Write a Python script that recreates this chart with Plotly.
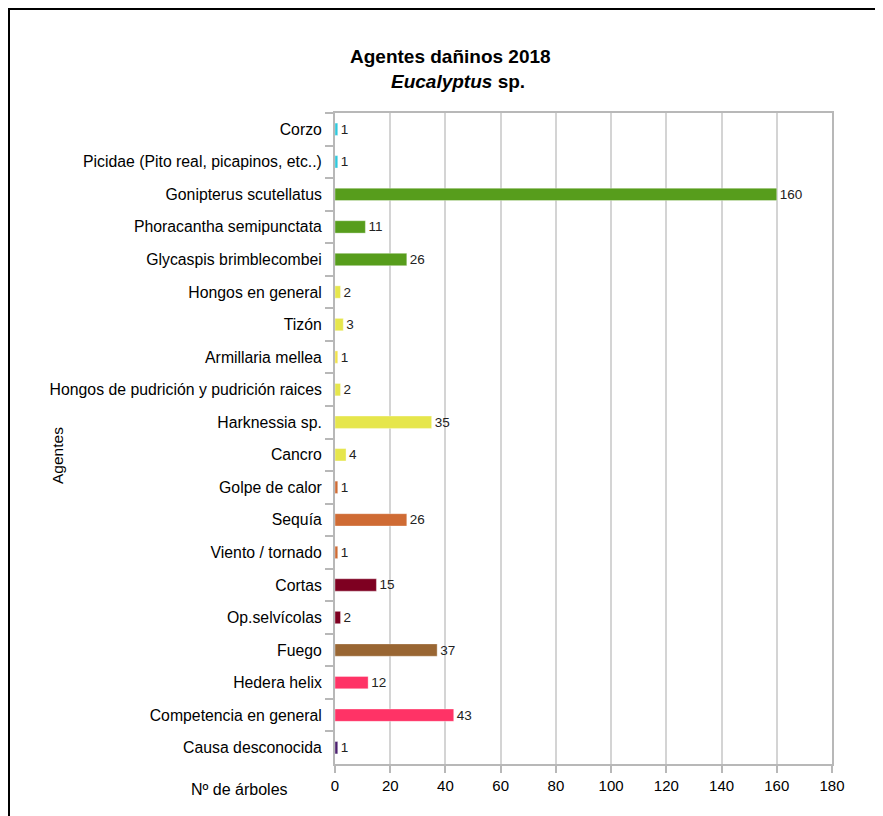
import plotly.graph_objects as go

agentes = [
    "Corzo",
    "Picidae (Pito real, picapinos, etc..)",
    "Gonipterus scutellatus",
    "Phoracantha semipunctata",
    "Glycaspis brimblecombei",
    "Hongos en general",
    "Tizón",
    "Armillaria mellea",
    "Hongos de pudrición y pudrición raices",
    "Harknessia sp.",
    "Cancro",
    "Golpe de calor",
    "Sequía",
    "Viento / tornado",
    "Cortas",
    "Op.selvícolas",
    "Fuego",
    "Hedera helix",
    "Competencia en general",
    "Causa desconocida",
]
arboles = [1, 1, 160, 11, 26, 2, 3, 1, 2, 35, 4, 1, 26, 1, 15, 2, 37, 12, 43, 1]

colores = [
    "#2fc8dc", "#2fc8dc",
    "#579d1c", "#579d1c", "#579d1c",
    "#e6e64c", "#e6e64c", "#f2e34a", "#e6e64c", "#e6e64c", "#e6e64c",
    "#cf6b34", "#cf6b34", "#cf6b34",
    "#7e0021", "#7e0021",
    "#996633",
    "#ff3366", "#ff3366",
    "#4b1f6f",
]

x_ticks = [0, 20, 40, 60, 80, 100, 120, 140, 160, 180]

FONT = "Liberation Sans"

# page body has an 8px margin; work in reference-pixel coordinates
OFF = 8
W, H = 883 - OFF, 816 - OFF
L = 335 - OFF
T = 113 - OFF
R = W - (832 - OFF)
B = H - (764 - OFF)
pw, ph = W - L - R, H - T - B


def px_x(X):
    return (X - OFF - L) / pw


def px_y(Y):
    return (H - B - (Y - OFF)) / ph


fig = go.Figure(
    go.Bar(
        x=arboles,
        y=agentes,
        orientation="h",
        marker=dict(color=colores, line=dict(width=1, color="rgba(255,255,255,0.35)")),
        text=[str(v) for v in arboles],
        textposition="outside",
        constraintext="none",
        textfont=dict(family=FONT, size=13.5, color="#222222"),
        cliponaxis=False,
        hoverinfo="x+y",
    )
)

fig.update_layout(
    width=W,
    height=H,
    margin=dict(l=L, r=R, t=T, b=B, pad=0),
    paper_bgcolor="white",
    plot_bgcolor="white",
    bargap=0.62,
    showlegend=False,
    font=dict(family=FONT, size=15, color="#000000"),
    xaxis=dict(
        range=[0, 180],
        tickvals=x_ticks,
        ticktext=[str(t) for t in x_ticks],
        showgrid=True,
        gridcolor="#d4d4d4",
        gridwidth=1.5,
        showline=True,
        linecolor="#b8b8b8",
        linewidth=2,
        mirror=True,
        ticks="outside",
        ticklen=7,
        tickwidth=2,
        tickcolor="#b8b8b8",
        zeroline=False,
        tickfont=dict(family=FONT, size=15, color="#000000"),
    ),
    yaxis=dict(
        categoryorder="array",
        categoryarray=agentes,
        autorange="reversed",
        showline=True,
        linecolor="#b8b8b8",
        linewidth=2,
        mirror=True,
        ticks="outside",
        tickson="boundaries",
        ticklen=8,
        tickwidth=2,
        tickcolor="#b8b8b8",
        showgrid=False,
        tickfont=dict(family=FONT, size=15.8, color="#000000"),
        ticklabelstandoff=8,
    ),
    annotations=[
        dict(
            text="<b>Agentes dañinos 2018</b>",
            xref="paper", yref="paper",
            x=px_x(450), y=px_y(56),
            xanchor="center", yanchor="middle",
            showarrow=False,
            font=dict(family=FONT, size=19, color="#000000"),
        ),
        dict(
            text="<b><i>Eucalyptus</i> sp.</b>",
            xref="paper", yref="paper",
            x=px_x(458), y=px_y(82),
            xanchor="center", yanchor="middle",
            showarrow=False,
            font=dict(family=FONT, size=19, color="#000000"),
        ),
        dict(
            text="Agentes",
            xref="paper", yref="paper",
            x=px_x(57), y=px_y(456),
            xanchor="center", yanchor="middle",
            textangle=-90, showarrow=False,
            font=dict(family=FONT, size=15.5, color="#000000"),
        ),
        dict(
            text="Nº de árboles",
            xref="paper", yref="paper",
            x=px_x(239), y=px_y(790),
            xanchor="center", yanchor="middle",
            showarrow=False,
            font=dict(family=FONT, size=16, color="#000000"),
        ),
    ],
    shapes=[
        dict(
            type="rect",
            xref="paper", yref="paper",
            x0=px_x(9), x1=px_x(895),
            y0=px_y(830), y1=px_y(9),
            line=dict(color="#000000", width=2),
            fillcolor="rgba(0,0,0,0)",
            layer="below",
        )
    ],
)

fig.write_html("out.html")
